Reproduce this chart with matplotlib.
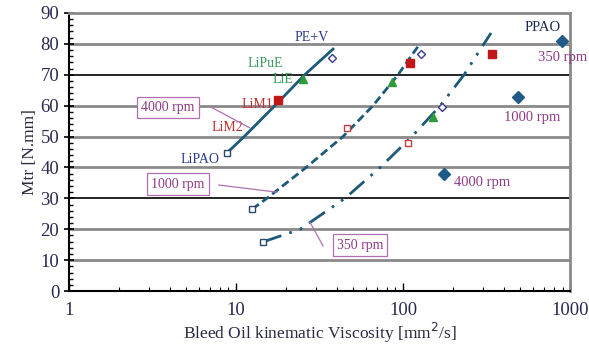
#!/usr/bin/env python3
import matplotlib
matplotlib.use("Agg")
import matplotlib.pyplot as plt
from matplotlib.ticker import MultipleLocator, LogLocator, NullFormatter, FixedLocator, FixedFormatter

plt.rcParams['font.family'] = ['Liberation Serif', 'DejaVu Serif']

# Fitted curves (viscosity, torque) for each speed
curve_4000_x = [8.83, 11.2, 17.1, 25.8, 38.1]
curve_4000_y = [44.7, 50.0, 60.0, 70.0, 78.3]
curve_1000_x = [12.5, 15.3, 26.3, 43.7, 66.1, 93.3, 126.0]
curve_1000_y = [26.5, 30.0, 40.0, 50.0, 60.0, 70.0, 80.0]
curve_350_x = [14.5, 24.2, 44.9, 72.9, 113.0, 167.0, 232.0, 305.0, 336.0]
curve_350_y = [15.9, 20.0, 30.0, 40.0, 50.0, 60.0, 70.0, 80.0, 83.5]

# Measured points per grease family: 4000, 1000, 350 rpm
lipao_x = [8.83, 12.5, 14.5]
lipao_y = [44.7, 26.5, 15.9]
lim2_x = [46.2, 107.0]
lim2_y = [52.7, 47.9]
lim1_x = [17.8, 110.0, 341.0]
lim1_y = [61.8, 73.8, 76.7]
lie_x = [25.2, 85.9, 151.0]
lie_y = [68.6, 67.6, 56.3]
pev_x = [37.6, 128.0, 171.0]
pev_y = [75.4, 76.7, 59.5]
ppao_x = [176.0, 488.0, 896.0]
ppao_y = [37.9, 62.8, 80.9]

navy = '#1d5a7a'
purple = '#8e3a86'

fig = plt.figure(figsize=(5.89, 3.49), dpi=100)
ax = fig.add_axes([0.117, 0.166, 0.851, 0.797])
ax.set_xscale('log')
ax.set_xlim(1, 1000)
ax.set_ylim(0, 90)

# horizontal grid
for yv in [10, 20, 40, 50, 60, 80]:
    ax.axhline(yv, color='#8a8a8a', lw=2.0, zorder=1)
for yv in [30, 70]:
    ax.axhline(yv, color='black', lw=1.2, zorder=1)

ax.plot(curve_4000_x, curve_4000_y, color=navy, lw=2.0, zorder=3)
ax.plot(curve_1000_x, curve_1000_y, color=navy, lw=2.0, ls=(0, (3, 1.5)), zorder=3)
ax.plot(curve_350_x, curve_350_y, color=navy, lw=2.0, ls=(0, (7, 3, 1, 3, 1, 3)), zorder=3)

ms = 5
ax.plot(lipao_x, lipao_y, 's', ms=ms, mfc='white', mec='#2b4a6a', mew=1.0, zorder=4)
ax.plot(lim2_x, lim2_y, 's', ms=ms, mfc='white', mec='#c04040', mew=1.0, zorder=4)
ax.plot(lim1_x, lim1_y, 's', ms=6, color='#c01818', zorder=4)
ax.plot(lie_x, lie_y, '^', ms=6, color='#2e9a3a', zorder=4)
ax.plot(pev_x, pev_y, 'D', ms=4.5, mfc='white', mec='#3a3a90', mew=1.0, zorder=4)
ax.plot(ppao_x, ppao_y, 'D', ms=6, color='#1f5a88', zorder=4)

# material labels
fs = 10
ax.text(28.5, 82.2, 'PE+V', color='#2b3a8c', fontsize=fs, ha='center', va='center')
ax.text(14.9, 73.5, 'LiPuE', color='#3a9a5a', fontsize=fs, ha='center', va='center')
ax.text(19.1, 68.6, 'LiE', color='#3a9a5a', fontsize=fs, ha='center', va='center')
ax.text(13.4, 60.5, 'LiM1', color='#c03030', fontsize=fs, ha='center', va='center')
ax.text(8.94, 52.8, 'LiM2', color='#c03030', fontsize=fs, ha='center', va='center')
ax.text(6.09, 42.7, 'LiPAO', color='#2b3a8c', fontsize=fs, ha='center', va='center')
ax.text(684, 85.4, 'PPAO', color='#1a2a50', fontsize=10.5, ha='center', va='center')

# speed labels for PPAO points
ax.text(906, 75.7, '350 rpm', color=purple, fontsize=10.5, ha='center', va='center')
ax.text(589, 56.3, '1000 rpm', color=purple, fontsize=10.5, ha='center', va='center')
ax.text(297, 35.0, '4000 rpm', color=purple, fontsize=10.5, ha='center', va='center')

# boxed curve labels with leader lines
box = dict(boxstyle='square,pad=0.3', fc='white', ec='#b070b0', lw=0.9)
ax.text(3.92, 59.5, '4000 rpm', color=purple, fontsize=10, ha='center', va='center', bbox=box, zorder=5)
ax.plot([7.1, 12.1], [59.5, 52.8], color='#b070b0', lw=0.9, zorder=5)
ax.text(4.50, 34.6, '1000 rpm', color=purple, fontsize=10, ha='center', va='center', bbox=box, zorder=5)
ax.plot([7.9, 17.6], [34.3, 32.0], color='#b070b0', lw=0.9, zorder=5)
ax.text(55.2, 14.9, '350 rpm', color=purple, fontsize=10, ha='center', va='center', bbox=box, zorder=5)
ax.plot([27.7, 33.2], [22.3, 14.6], color='#b070b0', lw=0.9, zorder=5)

# axes styling
ax.spines['left'].set_linewidth(1.5)
ax.spines['bottom'].set_linewidth(1.5)
ax.spines['top'].set_color('#8a8a8a')
ax.spines['top'].set_linewidth(2.0)
ax.spines['right'].set_color('#8a8a8a')
ax.spines['right'].set_linewidth(2.0)

ax.yaxis.set_major_locator(MultipleLocator(10))
ax.yaxis.set_minor_locator(MultipleLocator(2))
ax.xaxis.set_major_locator(FixedLocator([1, 10, 100, 1000]))
ax.xaxis.set_major_formatter(FixedFormatter(['1', '10', '100', '1000']))
ax.xaxis.set_minor_locator(LogLocator(base=10, subs=range(2, 10)))
ax.xaxis.set_minor_formatter(NullFormatter())
ax.tick_params(axis='y', which='major', direction='inout', length=7, width=1.2, labelsize=13.5, labelcolor='#2a2a50')
ax.tick_params(axis='y', which='minor', direction='in', length=3, width=1.0)
ax.tick_params(axis='x', which='major', direction='in', length=6, width=1.0, labelsize=13.5, labelcolor='#2a2a50', pad=8)
ax.tick_params(axis='x', which='minor', direction='in', length=3, width=0.8)

ax.set_ylabel('Mtr [N.mm]', fontsize=12.5, color='#2a2a40', labelpad=2)
ax.set_xlabel('Bleed Oil kinematic Viscosity [mm$^2$/s]', fontsize=12.5, color='#2a2a40', labelpad=1)

fig.savefig('out.png', dpi=100)
